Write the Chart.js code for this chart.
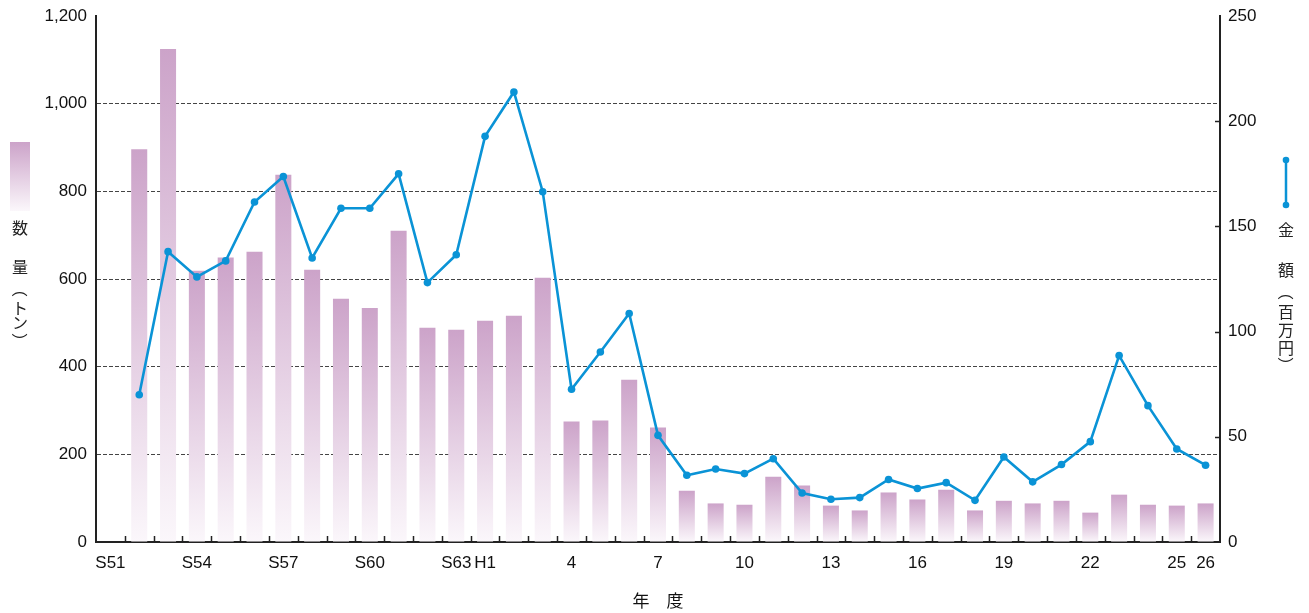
<!DOCTYPE html>
<html>
<head>
<meta charset="utf-8">
<script src="https://cdn.jsdelivr.net/npm/chart.js@4"></script>
<style>
  html, body { margin: 0; padding: 0; background: #ffffff; }
  #wrap { width: 1309px; height: 613px; }
</style>
</head>
<body>
<div id="wrap"><canvas id="c" width="1309" height="613"></canvas></div>
<script>
// Fiscal years: Showa 51-63, then Heisei 1-26
const years = [
  'S51','S52','S53','S54','S55','S56','S57','S58','S59','S60','S61','S62','S63',
  'H1','H2','H3','H4','H5','H6','H7','H8','H9','H10','H11','H12','H13','H14',
  'H15','H16','H17','H18','H19','H20','H21','H22','H23','H24','H25','H26'
];

// Labels printed under the axis (blank = unlabelled year)
const tickLabels = [
  'S51','','','S54','','','S57','','','S60','','','S63',
  'H1','','','4','','','7','','','10','','','13','',
  '','16','','','19','','','22','','','25','26'
];

// Quantity (tonnes) – left axis
const quantity = [
  null, 896, 1125, 619, 649, 662, 838, 621, 555, 534, 710, 489, 484,
  505, 516, 603, 275, 277, 370, 261, 117, 88, 85, 149, 129, 83, 72,
  113, 97, 119, 72, 94, 88, 94, 67, 108, 85, 83, 88
];

// Amount (million yen) – right axis
const amount = [
  null, 70, 138, 126, 133.6, 161.6, 173.7, 135, 158.6, 158.6, 175, 123.3, 136.5,
  192.8, 213.9, 166.5, 72.6, 90.3, 108.6, 50.7, 31.7, 34.7, 32.5, 39.6, 23.3, 20.3, 21.1,
  29.7, 25.4, 28.2, 19.8, 40.4, 28.6, 36.8, 47.7, 88.6, 64.8, 44.2, 36.5
];

const leftTicks = { min: 0, max: 1200, step: 200 };
const rightTicks = { min: 0, max: 250, step: 50 };

const BLUE = '#0a93d6';
const BAR_TOP = [204, 163, 201];
const BAR_BOTTOM = [251, 247, 251];
const NUM_FONT = "'Liberation Sans', Arial, sans-serif";
const CJK_FONT = "'Noto Sans CJK JP', 'Noto Sans', sans-serif";

function rgb(c) { return 'rgb(' + c.join(',') + ')'; }

function barGradient(ctx2d, yTop, yBase) {
  const g = ctx2d.createLinearGradient(0, yTop, 0, yBase);
  g.addColorStop(0, rgb(BAR_TOP));
  g.addColorStop(1, rgb(BAR_BOTTOM));
  return g;
}

// Vertical axes: fixed width, and no extra room reserved for half labels
function fitVertical(width) {
  return function (scale) {
    scale.width = width;
    scale.paddingTop = 0;
    scale.paddingBottom = 0;
  };
}

// Inner tick marks, side legends and vertical axis captions
const decorations = {
  id: 'decorations',
  afterDraw(chart) {
    const { ctx, chartArea, scales } = chart;
    const xs = scales.x, y1 = scales.y1;
    ctx.save();
    ctx.strokeStyle = '#222';
    ctx.lineWidth = 1.5;
    // category boundary ticks pointing up from the baseline
    ctx.beginPath();
    for (let i = 1; i < years.length; i++) {
      const px = Math.round((xs.getPixelForValue(i - 1) + xs.getPixelForValue(i)) / 2) + 0.5;
      ctx.moveTo(px, chartArea.bottom);
      ctx.lineTo(px, chartArea.bottom - 6);
    }
    // right axis ticks pointing inward
    for (let v = rightTicks.min + rightTicks.step; v < rightTicks.max; v += rightTicks.step) {
      const py = Math.round(y1.getPixelForValue(v)) + 0.5;
      ctx.moveTo(chartArea.right, py);
      ctx.lineTo(chartArea.right - 5, py);
    }
    ctx.stroke();

    // left legend swatch (bars)
    const sx = 10, sy = 142, sw = 20, sh = 69;
    ctx.fillStyle = barGradient(ctx, sy, sy + sh);
    ctx.fillRect(sx, sy, sw, sh);

    // right legend sample (line with markers)
    const lx = 1286, ly1 = 160, ly2 = 205;
    ctx.strokeStyle = BLUE;
    ctx.lineWidth = 2.5;
    ctx.beginPath();
    ctx.moveTo(lx, ly1);
    ctx.lineTo(lx, ly2);
    ctx.stroke();
    ctx.fillStyle = BLUE;
    [ly1, ly2].forEach(p => { ctx.beginPath(); ctx.arc(lx, p, 3.3, 0, Math.PI * 2); ctx.fill(); });

    // vertical captions: upright characters, brackets turned a quarter
    ctx.fillStyle = '#222';
    ctx.textAlign = 'center';
    ctx.textBaseline = 'middle';
    ctx.font = '16px ' + CJK_FONT;
    const drawColumn = (x, items) => items.forEach(([ch, y, rotate]) => {
      if (rotate) {
        ctx.save();
        ctx.translate(x, y);
        ctx.rotate(Math.PI / 2);
        ctx.fillText(ch, 0, 0);
        ctx.restore();
      } else {
        ctx.fillText(ch, x, y);
      }
    });
    drawColumn(20, [['数', 228], ['量', 267], ['（', 289, true], ['ト', 308], ['ン', 323], ['）', 341, true]]);
    drawColumn(1286, [['金', 230], ['額', 270], ['（', 292, true], ['百', 312], ['万', 330], ['円', 348], ['）', 365, true]]);
    ctx.restore();
  }
};

new Chart(document.getElementById('c'), {
  data: {
    labels: years,
    datasets: [
      {
        type: 'line',
        label: '金額（百万円）',
        data: amount,
        yAxisID: 'y1',
        order: 0,
        borderColor: BLUE,
        backgroundColor: BLUE,
        borderWidth: 2.6,
        pointRadius: 3.8,
        pointBackgroundColor: BLUE,
        pointBorderWidth: 0,
        tension: 0,
        spanGaps: false
      },
      {
        type: 'bar',
        label: '数量（トン）',
        data: quantity,
        yAxisID: 'y',
        order: 1,
        barPercentage: 0.556,
        categoryPercentage: 1,
        borderWidth: 0,
        backgroundColor(context) {
          const chart = context.chart;
          const v = context.raw;
          if (!chart.chartArea || v == null || !chart.scales.y) return rgb(BAR_TOP);
          const ys = chart.scales.y;
          return barGradient(chart.ctx, ys.getPixelForValue(v), ys.getPixelForValue(0));
        }
      }
    ]
  },
  options: {
    responsive: false,
    animation: false,
    events: [],
    layout: { padding: { top: 16, left: 0, right: 0, bottom: 0 } },
    plugins: { legend: { display: false }, tooltip: { enabled: false } },
    scales: {
      x: {
        type: 'category',
        offset: true,
        afterFit(scale) { scale.height = 71; },
        grid: { display: false, offset: true },
        border: { display: true, color: '#222', width: 2 },
        ticks: {
          autoSkip: false,
          maxRotation: 0,
          minRotation: 0,
          padding: 3,
          color: '#111',
          font: { family: NUM_FONT, size: 17 },
          callback(value, index) { return tickLabels[index]; }
        },
        title: {
          display: true,
          text: '年　度',
          color: '#111',
          font: { family: CJK_FONT, size: 17 },
          padding: { top: 0, bottom: 2 }
        }
      },
      y: {
        position: 'left',
        min: leftTicks.min,
        max: leftTicks.max,
        afterFit: fitVertical(96),
        grid: {
          drawTicks: false,
          lineWidth: 1,
          color(c) {
            const v = c.tick && c.tick.value;
            return (v === leftTicks.min || v === leftTicks.max) ? 'rgba(0,0,0,0)' : '#444';
          }
        },
        border: { display: true, color: '#222', width: 2, dash: [4, 2] },
        ticks: {
          stepSize: leftTicks.step,
          padding: 9,
          color: '#111',
          font: { family: NUM_FONT, size: 17 },
          callback(value) { return value.toLocaleString('en-US'); }
        }
      },
      y1: {
        position: 'right',
        min: rightTicks.min,
        max: rightTicks.max,
        afterFit: fitVertical(89),
        grid: { drawOnChartArea: false, drawTicks: false },
        border: { display: true, color: '#222', width: 2 },
        ticks: {
          stepSize: rightTicks.step,
          padding: 8,
          color: '#111',
          font: { family: NUM_FONT, size: 17 }
        }
      }
    }
  },
  plugins: [decorations]
});
</script>
</body>
</html>
